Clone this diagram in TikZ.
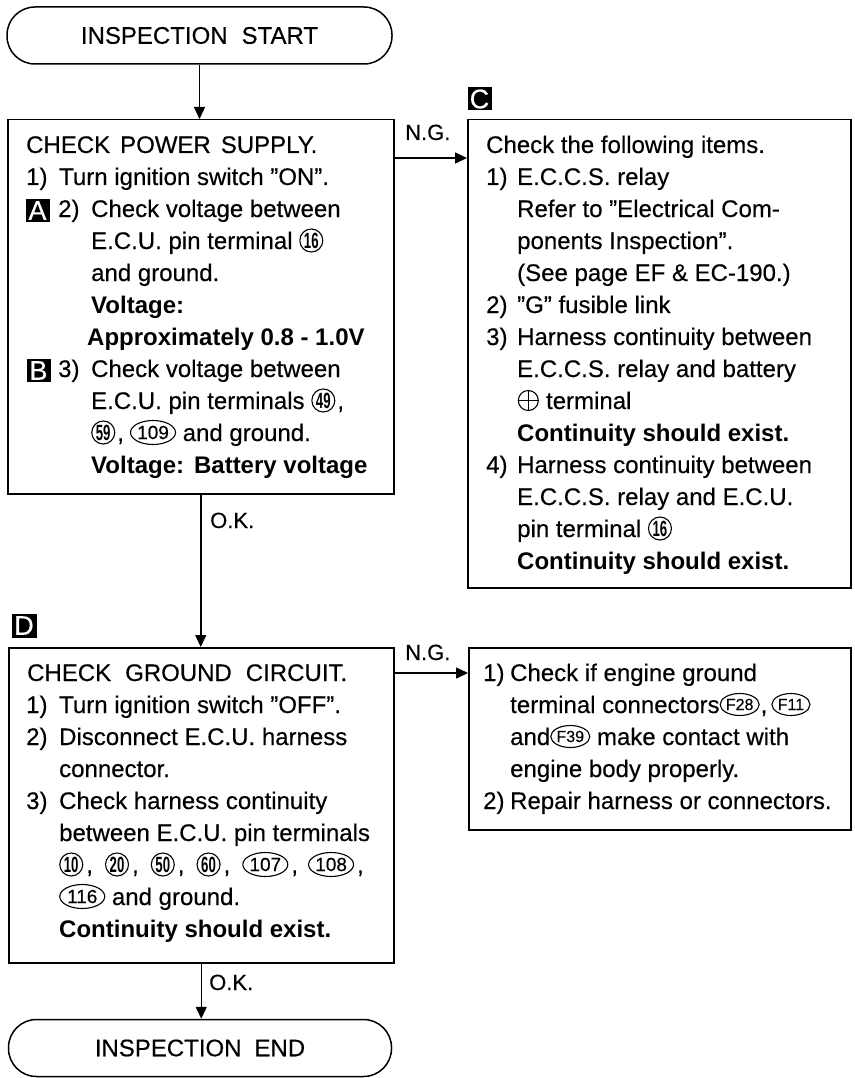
\documentclass[tikz,border=0pt]{standalone}
\usepackage{fontspec}
\usepackage{graphicx}
\setmainfont{Liberation Sans}[UprightFeatures={FakeBold=0.35}]
\usetikzlibrary{arrows.meta,shapes.geometric}
\newcommand\cnum[1]{\tikz[baseline={([yshift=-8.5pt]cn.center)}]\node[circle,draw,line width=1.1pt,minimum size=23pt,inner sep=0pt](cn){\fontsize{22}{22}\selectfont\bfseries\scalebox{0.6}[1]{#1}};}
\newcommand\onum[1]{\tikz[baseline={([yshift=-8.5pt]on.center)}]\node[ellipse,draw,line width=1.1pt,minimum width=45pt,minimum height=24pt,inner sep=0pt](on){\fontsize{19}{19}\selectfont #1};}
\newcommand\fnum[1]{\tikz[baseline={([yshift=-8.5pt]fn.center)}]\node[ellipse,draw,line width=1.1pt,minimum width=38pt,minimum height=22pt,inner sep=0pt](fn){\fontsize{16}{16}\selectfont #1};}
\newcommand\plusc{\tikz[baseline={([yshift=-8.5pt]pc.center)}]{\node[circle,draw,line width=1.1pt,minimum size=20pt,inner sep=0pt](pc){};\draw[line width=1.1pt](pc.north)--(pc.south)(pc.west)--(pc.east);}}
\begin{document}
\begin{tikzpicture}[x=1pt,y=-1pt,
 txt/.style={anchor=base west,inner sep=0pt,font=\fontsize{24}{28}\selectfont},
 btxt/.style={txt,font=\fontsize{24}{28}\selectfont\bfseries},
 box/.style={draw,line width=1.5pt,anchor=north west,inner sep=0pt},
 term/.style={draw,line width=1.5pt,rounded corners=28pt,inner sep=0pt,font=\fontsize{24}{28}\selectfont},
 lbl/.style={anchor=base west,inner sep=0pt,font=\fontsize{22}{24}\selectfont},
 tag/.style={fill=black,text=white,inner sep=0pt,minimum width=24pt,minimum height=23pt,font=\fontsize{27}{27}\selectfont},
 arr/.style={line width=1.5pt,-{Triangle[length=12pt,width=11pt]}}]
\useasboundingbox (0,0) rectangle (854,1078);

% terminals
\node[term,minimum width=385pt,minimum height=57pt] (start) at (199.5,35.5) {INSPECTION\hspace{14pt}START};
\node[term,minimum width=383pt,minimum height=57pt] (stop) at (200,1048) {INSPECTION\hspace{13pt}END};

% boxes
\node[box,minimum width=386pt,minimum height=374pt] (b1) at (7,119) {};
\node[box,minimum width=383pt,minimum height=468pt] (bc) at (467,119) {};
\node[box,minimum width=385pt,minimum height=315pt] (b2) at (8,647) {};
\node[box,minimum width=382pt,minimum height=182pt] (b4) at (468,647) {};

% tags
\node[tag] (tagA) at (37.5,210.5) {A};
\node[tag] (tagB) at (38.5,370.5) {B};
\node[tag] (tagC) at (479.5,99) {C};
\node[tag,minimum width=25pt,minimum height=24pt] (tagD) at (24,625.5) {D};

% box 1 text
\node[txt] (p1) at (26,153) {CHECK\hspace{10pt}POWER\hspace{10pt}SUPPLY.};
\node[txt] (p2) at (26,185) {\makebox[33pt][l]{1)}Turn ignition switch ''ON''.};
\node[txt] (p3) at (58,217) {\makebox[33pt][l]{2)}Check voltage between};
\node[txt] (p4) at (91,249) {E.C.U. pin terminal \cnum{16}};
\node[txt] (p5) at (91,281) {and ground.};
\node[btxt] (p6) at (91,313) {Voltage:};
\node[btxt] (p7) at (87,345) {Approximately 0.8 - 1.0V};
\node[txt] (p8) at (58,377) {\makebox[33pt][l]{3)}Check voltage between};
\node[txt] (p9) at (91,409) {E.C.U. pin terminals \cnum{49}\hspace{2pt},};
\node[txt] (p10) at (91,441) {\cnum{59}\hspace{2pt},\hspace{6pt}\onum{109} and ground.};
\node[btxt] (p11) at (91,473) {Voltage:\hspace{10pt}Battery voltage};

% box C text
\node[txt] (c1) at (486,153) {Check the following items.};
\node[txt] (c2) at (486,185) {\makebox[31pt][l]{1)}E.C.C.S. relay};
\node[txt] (c3) at (517,217) {Refer to ''Electrical Com-};
\node[txt] (c4) at (517,249) {ponents Inspection''.};
\node[txt] (c5) at (517,281) {(See page EF \& EC-190.)};
\node[txt] (c6) at (486,313) {\makebox[31pt][l]{2)}''G'' fusible link};
\node[txt] (c7) at (486,345) {\makebox[31pt][l]{3)}Harness continuity between};
\node[txt] (c8) at (517,377) {E.C.C.S. relay and battery};
\node[txt] (c9) at (517,409) {\plusc\ terminal};
\node[btxt] (c10) at (517,441) {Continuity should exist.};
\node[txt] (c11) at (486,473) {\makebox[31pt][l]{4)}Harness continuity between};
\node[txt] (c12) at (517,505) {E.C.C.S. relay and E.C.U.};
\node[txt] (c13) at (517,537) {pin terminal \cnum{16}};
\node[btxt] (c14) at (517,569) {Continuity should exist.};

% box 2 text
\node[txt] (g1) at (27,681) {CHECK\hspace{14pt}GROUND\hspace{14pt}CIRCUIT.};
\node[txt] (g2) at (26,713) {\makebox[33pt][l]{1)}Turn ignition switch ''OFF''.};
\node[txt] (g3) at (26,745) {\makebox[33pt][l]{2)}Disconnect E.C.U. harness};
\node[txt] (g4) at (59,777) {connector.};
\node[txt] (g5) at (26,809) {\makebox[33pt][l]{3)}Check harness continuity};
\node[txt] (g6) at (59,841) {between E.C.U. pin terminals};
\node[txt] (g7) at (59,873) {\cnum{10}\hspace{3pt},\hspace{12pt}\cnum{20}\hspace{3pt},\hspace{12pt}\cnum{50}\hspace{3pt},\hspace{12pt}\cnum{60}\hspace{3pt},\hspace{12pt}\onum{107}\hspace{3pt},\hspace{10pt}\onum{108}\hspace{3pt},};
\node[txt] (g8) at (59,905) {\onum{116} and ground.};
\node[btxt] (g9) at (59,937) {Continuity should exist.};

% box 4 text
\node[txt] (r1) at (483,681) {\makebox[27pt][l]{1)}Check if engine ground};
\node[txt] (r2) at (510,713) {terminal connectors\fnum{F28}\hspace{1pt},\hspace{4pt}\fnum{F11}};
\node[txt] (r3) at (510,745) {and\fnum{F39} make contact with};
\node[txt] (r4) at (510,777) {engine body properly.};
\node[txt] (r5) at (483,809) {\makebox[27pt][l]{2)}Repair harness or connectors.};

% labels
\node[lbl] (ng1) at (405,140) {N.G.};
\node[lbl] (ng2) at (405,660) {N.G.};
\node[lbl] (ok1) at (210,528) {O.K.};
\node[lbl] (ok2) at (209,990) {O.K.};

% connectors
\draw[arr] (start.south) -- (start.south |- b1.north);
\draw[arr] ([yshift=-39pt]b1.north east) -- ([yshift=-39pt]bc.north west);
\draw[arr] (b1.south) -- (b1.south |- b2.north);
\draw[arr] ([yshift=-26pt]b2.north east) -- ([yshift=-26pt]b4.north west);
\draw[arr] (b2.south) -- (b2.south |- stop.north);
\end{tikzpicture}
\end{document}
